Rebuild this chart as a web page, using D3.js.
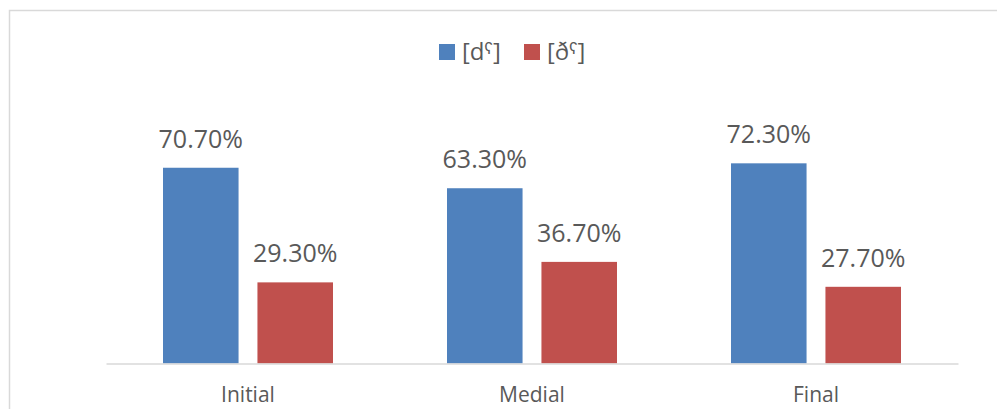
<!DOCTYPE html>
<html><head><meta charset="utf-8">
<script src="https://cdn.jsdelivr.net/npm/d3@7"></script>
<style>body{margin:0;background:#fff}svg{display:block}text{font-family:"Open Sans",sans-serif;fill:#595959}</style>
</head><body><svg id="c" width="997" height="409"></svg>
<script>
const categories = ["Initial", "Medial", "Final"];
const seriesNames = ["[dˤ]", "[ðˤ]"];
const seriesColors = ["#4F81BD", "#C0504D"];
const dValues = [70.7, 63.3, 72.3];
const dhValues = [29.3, 36.7, 27.7];
const seriesValues = [dValues, dhValues];

const svg = d3.select("#c");
// chart border
svg.append("rect").attr("x", 9.5).attr("y", 10.5).attr("width", 1000).attr("height", 420)
  .attr("fill", "none").attr("stroke", "#d9d9d9").attr("stroke-width", 1.5);

const x0 = d3.scaleBand().domain(categories).range([106, 958]).paddingInner(0).paddingOuter(0);
const x1 = d3.scaleBand().domain([0, 1]).range([57, 227]).paddingInner(0.2).paddingOuter(0);
const y = d3.scaleLinear().domain([0, 80]).range([363.5, 142]);

const g = svg.append("g");
categories.forEach((c, ci) => {
  seriesValues.forEach((vals, si) => {
    const v = vals[ci];
    const bx = x0(c) + x1(si);
    g.append("rect").attr("x", bx).attr("y", y(v)).attr("width", x1.bandwidth())
      .attr("height", y(0) - y(v)).attr("fill", seriesColors[si]);
    g.append("text").attr("x", bx + x1.bandwidth() / 2).attr("y", y(v) - 20)
      .attr("text-anchor", "middle").style("font-size", "25px").text(v.toFixed(2) + "%");
  });
});

// axis
const axis = svg.append("g").attr("transform", "translate(0,363.5)")
  .call(d3.axisBottom(x0).tickSize(0).tickPadding(24));
axis.select(".domain").attr("stroke", "#d9d9d9").attr("stroke-width", 1.5);
axis.selectAll("text").style("font-size", "21px").attr("fill", "#595959")
  .style("font-family", "'Open Sans',sans-serif");

// legend
const legendX = [439, 524];
seriesNames.forEach((n, i) => {
  svg.append("rect").attr("x", legendX[i]).attr("y", 44).attr("width", 16).attr("height", 16)
    .attr("fill", seriesColors[i]);
  svg.append("text").attr("x", legendX[i] + 23).attr("y", 60).style("font-size", "24px").text(n);
});
</script></body></html>
